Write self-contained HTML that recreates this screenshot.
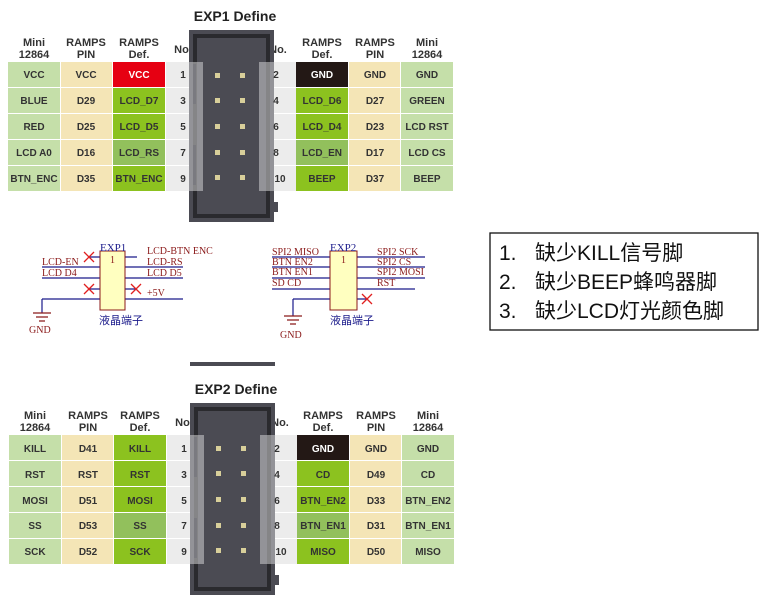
<!DOCTYPE html>
<html><head><meta charset="utf-8"><style>
html,body{margin:0;padding:0;background:#fff;width:761px;height:602px;overflow:hidden}
svg{display:block}
.h{font:bold 11px "Liberation Sans",sans-serif;fill:#333;text-anchor:middle}
.c text,.c{font:bold 10px "Liberation Sans",sans-serif;fill:#333;text-anchor:middle}
.c .w{fill:#fff}
.t{font:bold 14px "Liberation Sans",sans-serif;fill:#222;text-anchor:middle}
.s{font:10px "Liberation Serif",serif;fill:#8b1a1a}
.b{font:11px "Liberation Serif",serif;fill:#1a1a8b}
.cj{font:11px "Liberation Sans","Noto Sans CJK SC",sans-serif;fill:#1a1a8b}
.big{font:21px "Liberation Sans","Noto Sans CJK SC",sans-serif;fill:#111}
</style></head><body>
<svg width="761" height="602" viewBox="0 0 761 602" xmlns="http://www.w3.org/2000/svg">
<defs>
<g id="conn">
 <rect x="0" y="0" width="85" height="192" fill="#4b4b53"/>
 <rect x="6" y="6" width="73" height="180" fill="none" stroke="#2a2a2e" stroke-width="4"/>
 <rect x="0" y="32" width="14" height="129" fill="#cfcfd2" opacity="0.55"/>
 <rect x="70" y="32" width="15" height="129" fill="#cfcfd2" opacity="0.55"/>
 <rect x="4" y="34" width="3" height="40" fill="#7a7a80"/>
 <rect x="4" y="115" width="3" height="40" fill="#7a7a80"/>
 <rect x="85" y="172" width="4" height="10" fill="#4b4b53"/>
 <g fill="#d8cf9a">
  <rect x="26" y="43" width="5" height="5"/><rect x="51" y="43" width="5" height="5"/>
  <rect x="26" y="68" width="5" height="5"/><rect x="51" y="68" width="5" height="5"/>
  <rect x="26" y="94" width="5" height="5"/><rect x="51" y="94" width="5" height="5"/>
  <rect x="26" y="120" width="5" height="5"/><rect x="51" y="120" width="5" height="5"/>
  <rect x="26" y="145" width="5" height="5"/><rect x="51" y="145" width="5" height="5"/>
 </g>
</g>
</defs>

<text class="t" x="235" y="21">EXP1 Define</text>
<text class="h" x="34" y="46">Mini</text><text class="h" x="34" y="58">12864</text>
<text class="h" x="86" y="46">RAMPS</text><text class="h" x="86" y="58">PIN</text>
<text class="h" x="139" y="46">RAMPS</text><text class="h" x="139" y="58">Def.</text>
<text class="h" x="183" y="53">No.</text><text class="h" x="278" y="53">No.</text>
<text class="h" x="322" y="46">RAMPS</text><text class="h" x="322" y="58">Def.</text>
<text class="h" x="375" y="46">RAMPS</text><text class="h" x="375" y="58">PIN</text>
<text class="h" x="427" y="46">Mini</text><text class="h" x="427" y="58">12864</text>
<g>
 <rect x="8" y="62" width="52" height="129" fill="#c5dfa9"/>
 <rect x="61" y="62" width="51" height="129" fill="#f4e5b6"/>
 <rect x="166" y="62" width="100" height="129" fill="#ececec"/>
 <rect x="258" y="62" width="38" height="129" fill="#ececec"/>
 <rect x="349" y="62" width="51" height="129" fill="#f4e5b6"/>
 <rect x="401" y="62" width="52" height="129" fill="#c5dfa9"/>
 <rect x="113" y="62" width="52" height="25" fill="#e60012"/>
 <rect x="113" y="88" width="52" height="25" fill="#8cc21f"/>
 <rect x="113" y="114" width="52" height="25" fill="#8cc21f"/>
 <rect x="113" y="140" width="52" height="25" fill="#92c05c"/>
 <rect x="113" y="166" width="52" height="25" fill="#8cc21f"/>
 <rect x="296" y="62" width="52" height="25" fill="#231815"/>
 <rect x="296" y="88" width="52" height="25" fill="#8cc21f"/>
 <rect x="296" y="114" width="52" height="25" fill="#8cc21f"/>
 <rect x="296" y="140" width="52" height="25" fill="#92c05c"/>
 <rect x="296" y="166" width="52" height="25" fill="#8cc21f"/>
 <g fill="#fff"><rect x="0" y="87" width="460" height="1"/><rect x="0" y="113" width="460" height="1"/><rect x="0" y="139" width="460" height="1"/><rect x="0" y="165" width="460" height="1"/>
 <rect x="60" y="62" width="1" height="129"/><rect x="112" y="62" width="1" height="129"/><rect x="165" y="62" width="1" height="129"/><rect x="348" y="62" width="1" height="129"/><rect x="400" y="62" width="1" height="129"/></g>
</g>
<use href="#conn" x="189" y="30"/>
<g class="c">
 <text x="34" y="78">VCC</text><text x="86" y="78">VCC</text><text x="139" y="78" class="w">VCC</text><text x="183" y="78">1</text>
 <text x="34" y="104">BLUE</text><text x="86" y="104">D29</text><text x="139" y="104">LCD_D7</text><text x="183" y="104">3</text>
 <text x="34" y="130">RED</text><text x="86" y="130">D25</text><text x="139" y="130">LCD_D5</text><text x="183" y="130">5</text>
 <text x="34" y="156">LCD A0</text><text x="86" y="156">D16</text><text x="139" y="156">LCD_RS</text><text x="183" y="156">7</text>
 <text x="34" y="182">BTN_ENC</text><text x="86" y="182">D35</text><text x="139" y="182">BTN_ENC</text><text x="183" y="182">9</text>
 <text x="276" y="78">2</text><text x="322" y="78" class="w">GND</text><text x="375" y="78">GND</text><text x="427" y="78">GND</text>
 <text x="276" y="104">4</text><text x="322" y="104">LCD_D6</text><text x="375" y="104">D27</text><text x="427" y="104">GREEN</text>
 <text x="276" y="130">6</text><text x="322" y="130">LCD_D4</text><text x="375" y="130">D23</text><text x="427" y="130">LCD RST</text>
 <text x="276" y="156">8</text><text x="322" y="156">LCD_EN</text><text x="375" y="156">D17</text><text x="427" y="156">LCD CS</text>
 <text x="280" y="182">10</text><text x="322" y="182">BEEP</text><text x="375" y="182">D37</text><text x="427" y="182">BEEP</text>
</g>

<g stroke="#1a1a8b" stroke-width="1.2" fill="none">
 <path d="M88 257H100M88 267H100M88 278H100M88 289H100M88 299H100M125 257H137M125 267H137M125 278H137M125 289H137M125 299H137"/>
 <path d="M42 267H88M42 278H88M42 299H88M42 299V313M137 267H183M137 278H183M137 299H183"/>
 <path d="M272 257H330M272 267H330M272 278H330M272 289H330M293 299H330M293 299V316M357 257H425M357 267H425M357 278H425M357 289H415M357 299H367"/>
</g>
<g stroke="#8b1a1a" stroke-width="1.2">
 <path d="M33 313H51M36 317H48M39 321H45"/>
 <path d="M284 316H302M287 320H299M290 324H296"/>
</g>
<rect x="100" y="251" width="25" height="59" fill="#ffffc0" stroke="#8b1a1a" stroke-width="1"/>
<rect x="330" y="251" width="27" height="59" fill="#ffffc0" stroke="#8b1a1a" stroke-width="1"/>
<g stroke="#e02020" stroke-width="1.3">
 <path d="M84 252L94 262M94 252L84 262M84 284L94 294M94 284L84 294M131 284L141 294M141 284L131 294M362 294L372 304M372 294L362 304"/>
</g>
<text class="b" x="100" y="251">EXP1</text><text class="b" x="330" y="251">EXP2</text>
<text class="s" x="110" y="263">1</text><text class="s" x="341" y="263">1</text>
<text class="s" x="42" y="265">LCD-EN</text><text class="s" x="42" y="276">LCD D4</text>
<text class="s" x="147" y="254">LCD-BTN ENC</text><text class="s" x="147" y="265">LCD-RS</text><text class="s" x="147" y="276">LCD D5</text><text class="s" x="147" y="296">+5V</text>
<text class="s" x="29" y="333">GND</text><text class="s" x="280" y="338">GND</text>
<text class="cj" x="99" y="324">液晶端子</text><text class="cj" x="330" y="324">液晶端子</text>
<text class="s" x="272" y="255">SPI2 MISO</text><text class="s" x="272" y="265">BTN EN2</text><text class="s" x="272" y="275">BTN EN1</text><text class="s" x="272" y="286">SD CD</text>
<text class="s" x="377" y="255">SPI2 SCK</text><text class="s" x="377" y="265">SPI2 CS</text><text class="s" x="377" y="275">SPI2 MOSI</text><text class="s" x="377" y="286">RST</text>

<rect x="490" y="233" width="268" height="97" fill="none" stroke="#111" stroke-width="1.3"/>
<text class="big" x="499" y="260">1.</text><text class="big" x="535" y="260">缺少KILL信号脚</text>
<text class="big" x="499" y="289">2.</text><text class="big" x="535" y="289">缺少BEEP蜂鸣器脚</text>
<text class="big" x="499" y="318">3.</text><text class="big" x="535" y="318">缺少LCD灯光颜色脚</text>

<rect x="190" y="362" width="85" height="4" fill="#4b4b53"/>

<text class="t" x="236" y="394">EXP2 Define</text>
<text class="h" x="35" y="419">Mini</text><text class="h" x="35" y="431">12864</text>
<text class="h" x="88" y="419">RAMPS</text><text class="h" x="88" y="431">PIN</text>
<text class="h" x="140" y="419">RAMPS</text><text class="h" x="140" y="431">Def.</text>
<text class="h" x="184" y="426">No.</text><text class="h" x="280" y="426">No.</text>
<text class="h" x="323" y="419">RAMPS</text><text class="h" x="323" y="431">Def.</text>
<text class="h" x="376" y="419">RAMPS</text><text class="h" x="376" y="431">PIN</text>
<text class="h" x="428" y="419">Mini</text><text class="h" x="428" y="431">12864</text>
<g>
 <rect x="9" y="435" width="52" height="129" fill="#c5dfa9"/>
 <rect x="62" y="435" width="51" height="129" fill="#f4e5b6"/>
 <rect x="167" y="435" width="100" height="129" fill="#ececec"/>
 <rect x="259" y="435" width="38" height="129" fill="#ececec"/>
 <rect x="350" y="435" width="51" height="129" fill="#f4e5b6"/>
 <rect x="402" y="435" width="52" height="129" fill="#c5dfa9"/>
 <rect x="114" y="435" width="52" height="129" fill="#8cc21f"/>
 <rect x="114" y="513" width="52" height="25" fill="#92c05c"/>
 <rect x="297" y="435" width="52" height="25" fill="#231815"/>
 <rect x="297" y="461" width="52" height="103" fill="#8cc21f"/>
 <rect x="297" y="513" width="52" height="25" fill="#92c05c"/>
 <g fill="#fff"><rect x="0" y="460" width="460" height="1"/><rect x="0" y="486" width="460" height="1"/><rect x="0" y="512" width="460" height="1"/><rect x="0" y="538" width="460" height="1"/>
 <rect x="61" y="435" width="1" height="129"/><rect x="113" y="435" width="1" height="129"/><rect x="166" y="435" width="1" height="129"/><rect x="349" y="435" width="1" height="129"/><rect x="401" y="435" width="1" height="129"/></g>
</g>
<use href="#conn" x="190" y="403"/>
<g class="c">
 <text x="35" y="452">KILL</text><text x="88" y="452">D41</text><text x="140" y="452">KILL</text><text x="184" y="452">1</text>
 <text x="35" y="478">RST</text><text x="88" y="478">RST</text><text x="140" y="478">RST</text><text x="184" y="478">3</text>
 <text x="35" y="504">MOSI</text><text x="88" y="504">D51</text><text x="140" y="504">MOSI</text><text x="184" y="504">5</text>
 <text x="35" y="529">SS</text><text x="88" y="529">D53</text><text x="140" y="529">SS</text><text x="184" y="529">7</text>
 <text x="35" y="555">SCK</text><text x="88" y="555">D52</text><text x="140" y="555">SCK</text><text x="184" y="555">9</text>
 <text x="277" y="452">2</text><text x="323" y="452" class="w">GND</text><text x="376" y="452">GND</text><text x="428" y="452">GND</text>
 <text x="277" y="478">4</text><text x="323" y="478">CD</text><text x="376" y="478">D49</text><text x="428" y="478">CD</text>
 <text x="277" y="504">6</text><text x="323" y="504">BTN_EN2</text><text x="376" y="504">D33</text><text x="428" y="504">BTN_EN2</text>
 <text x="277" y="529">8</text><text x="323" y="529">BTN_EN1</text><text x="376" y="529">D31</text><text x="428" y="529">BTN_EN1</text>
 <text x="281" y="555">10</text><text x="323" y="555">MISO</text><text x="376" y="555">D50</text><text x="428" y="555">MISO</text>
</g>
</svg>
</body></html>
